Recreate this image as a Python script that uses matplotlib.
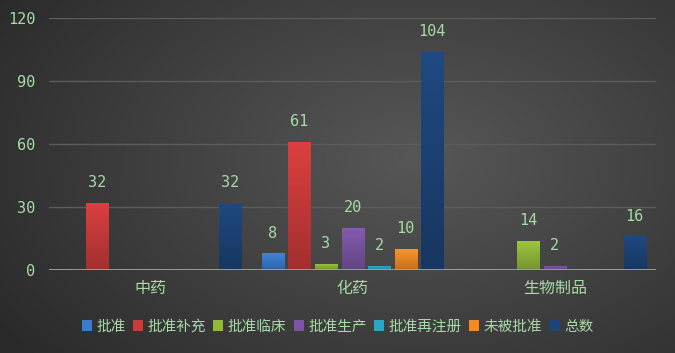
import matplotlib.pyplot as plt
import numpy as np
from matplotlib.colors import LinearSegmentedColormap, to_rgb

plt.rcParams['font.family'] = ['Noto Sans CJK SC', 'DejaVu Sans']

categories = ["中药", "化药", "生物制品"]
series = ["批准", "批准补充", "批准临床", "批准生产", "批准再注册", "未被批准", "总数"]
values = [
    [0, 8, 0],      # 批准
    [32, 61, 0],    # 批准补充
    [0, 3, 14],     # 批准临床
    [0, 20, 2],     # 批准生产
    [0, 2, 0],      # 批准再注册
    [0, 10, 0],     # 未被批准
    [32, 104, 16],  # 总数
]
colors = ["#3a7bcc", "#cc3b3b", "#92b83c", "#7b55a3", "#2ba6c6", "#f58a25", "#1d4478"]
yticks = [0, 30, 60, 90, 120]

txt = "#a6dba6"

fig = plt.figure(figsize=(6.75, 3.53), dpi=100)

# --- fundo com gradiente radial ---
bg = fig.add_axes([0, 0, 1, 1])
gx, gy = np.meshgrid(np.linspace(0, 1, 300), np.linspace(0, 1, 160))
r = np.sqrt(((gx - 0.62) / 0.75) ** 2 + ((gy - 0.55) / 0.9) ** 2)
bg.imshow(np.clip(r, 0, 1), cmap=LinearSegmentedColormap.from_list("bg", ["#575757", "#2a2a2a"]),
          aspect="auto", extent=[0, 1, 0, 1], origin="lower")
bg.axis("off")

ax = fig.add_axes([0.0726, 0.235, 0.8994, 0.714])
ax.patch.set_alpha(0)

n = len(series)
slot = 0.92 / n
width = slot * 0.83
x = np.arange(len(categories))

for i, (name, vals, c) in enumerate(zip(series, values, colors)):
    pos = x + (i - (n - 1) / 2) * slot
    bars = ax.bar(pos, vals, width, color=c, label=name, zorder=3)
    base = np.array(to_rgb(c))
    cmap = LinearSegmentedColormap.from_list("g", [base * 0.8, np.minimum(base * 1.08, 1)])
    for b, v in zip(bars, vals):
        if v == 0:
            continue
        # gradiente vertical dentro da barra
        im = ax.imshow(np.linspace(0, 1, 50).reshape(-1, 1), cmap=cmap, aspect="auto",
                       extent=[b.get_x(), b.get_x() + b.get_width(), 0, v], origin="lower", zorder=3)
        im.set_clip_path(b)
        ax.text(b.get_x() + b.get_width() / 2, v + 6, str(v), ha="center", va="bottom",
                color=txt, fontsize=11, family="DejaVu Sans Mono", zorder=4)

ax.set_xlim(-0.5, 2.5)
ax.set_ylim(0, 120)
ax.set_yticks(yticks)
ax.set_xticks(x)
ax.set_xticklabels(categories)
for yv in yticks[1:]:
    ax.axhline(yv, color="#5c5c5c", lw=1, zorder=1)
ax.axhline(0, color="#9aab98", lw=2, zorder=4)
for s in ax.spines.values():
    s.set_visible(False)
ax.tick_params(length=0)
ax.tick_params(axis="y", colors=txt, labelsize=11, pad=10)
ax.tick_params(axis="x", colors=txt, labelsize=11.5, pad=7)
for t in ax.get_yticklabels():
    t.set_family("DejaVu Sans Mono")

leg = fig.legend(loc="center", bbox_to_anchor=(0.5, 0.075), ncol=n, frameon=False,
                 fontsize=10.5, handlelength=0.7, handleheight=0.7, handletextpad=0.3,
                 columnspacing=0.5, labelcolor=txt)

fig.savefig("out.png", dpi=100)
